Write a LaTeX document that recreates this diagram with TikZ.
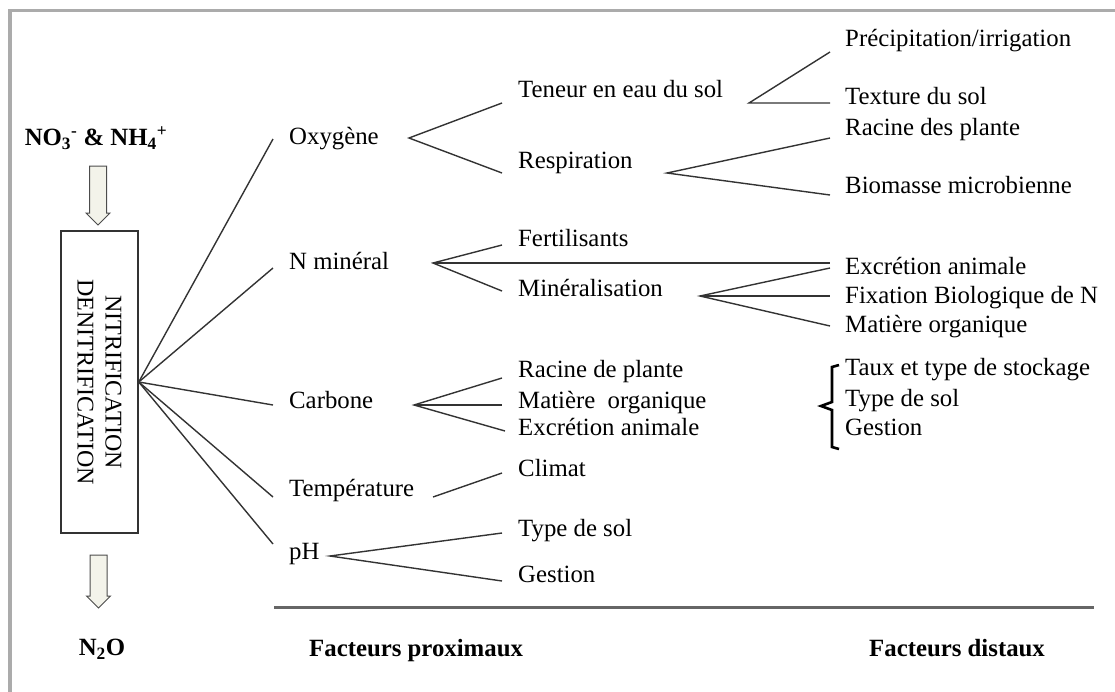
\documentclass[tikz,border=0pt]{standalone}
\usepackage{fontspec}
\setmainfont{Liberation Serif}
\definecolor{framegray}{HTML}{ABABAB}
\definecolor{linegray}{HTML}{333333}
\definecolor{rulegray}{HTML}{666666}
\definecolor{arrowfill}{HTML}{F3F3EA}
\begin{document}
\begin{tikzpicture}[x=1pt,y=-1pt,
  lbl/.style={anchor=west, inner sep=0pt, text height=0.66em, text depth=0pt, font=\fontsize{24.8}{30}\selectfont},
  blbl/.style={lbl, font=\fontsize{24.8}{30}\selectfont\bfseries},
  conn/.style={draw=linegray, line width=1.4pt},
  harrow/.style={draw=black!70, fill=arrowfill, line width=1pt, line join=miter}]
\useasboundingbox (0,0) rectangle (1115,691);
\draw[framegray, line width=3.5pt] (10,700) -- (10,10.5) -- (1125,10.5);

% left column
\node[blbl, anchor=center] (no3) at (96,142) {NO\textsubscript{3}\textsuperscript{-} \& NH\textsubscript{4}\textsuperscript{+}};
\node[draw=linegray, line width=1.5pt, minimum width=77pt, minimum height=302pt, inner sep=0pt] (box) at (99.5,382) {};
\node[rotate=-90, align=center, inner sep=0pt, font=\fontsize{24}{28}\selectfont] (boxtext) at (box.center) {NITRIFICATION\\DENITRIFICATION};
\node[blbl, anchor=center] (n2o) at (102,652) {N\textsubscript{2}O};
\draw[harrow] (89.5,166) -- (106.5,166) -- (106.5,213) -- (110,213) -- (98,225) -- (86,213) -- (89.5,213) -- cycle;
\draw[harrow] (90,555) -- (107,555) -- (107,596) -- (110.5,596) -- (98.5,608) -- (86.5,596) -- (90,596) -- cycle;

% level 1
\node[lbl] (oxy) at (289,141) {Oxygène};
\node[lbl] (nmin) at (289,266) {N minéral};
\node[lbl] (carb) at (289,405) {Carbone};
\node[lbl] (temp) at (289,493) {Température};
\node[lbl] (ph) at (289,556) {pH};

% level 2
\node[lbl] (ten) at (518,94) {Teneur en eau du sol};
\node[lbl] (resp) at (518,165) {Respiration};
\node[lbl] (fert) at (518,243) {Fertilisants};
\node[lbl] (minr) at (518,293) {Minéralisation};
\node[lbl] (racp) at (518,374) {Racine de plante};
\node[lbl] (mato) at (518,405) {Matière\ \ organique};
\node[lbl] (excr) at (518,432) {Excrétion animale};
\node[lbl] (clim) at (518,473) {Climat};
\node[lbl] (tsol) at (518,533) {Type de sol};
\node[lbl] (gest) at (518,579) {Gestion};

% level 3
\node[lbl] (prec) at (845,43) {Précipitation/irrigation};
\node[lbl] (text) at (845,101) {Texture du sol};
\node[lbl] (racd) at (845,132) {Racine des plante};
\node[lbl] (biom) at (845,190) {Biomasse microbienne};
\node[lbl] (exca) at (845,271) {Excrétion animale};
\node[lbl] (fixb) at (845,300) {Fixation Biologique de N};
\node[lbl] (mat3) at (845,329) {Matière organique};
\node[lbl] (taux) at (845,372) {Taux et type de stockage};
\node[lbl] (tys3) at (845,403) {Type de sol};
\node[lbl] (ges3) at (845,432) {Gestion};

% bottom
\node[blbl] (fprox) at (309,653) {Facteurs proximaux};
\node[blbl] (fdist) at (869,653) {Facteurs distaux};
\coordinate (ruleL) at (274,607);
\coordinate (ruleR) at (1094,607);
\draw[rulegray, line width=3pt] (ruleL) -- (ruleR);

% connector coordinates
\coordinate (f1) at (273,139); \coordinate (f2) at (273,268); \coordinate (f3) at (273,405);
\coordinate (f4) at (273,497); \coordinate (f5) at (273,544);
\coordinate (oxyR) at (409,138); \coordinate (oxyA) at (502,103); \coordinate (oxyB) at (502,173);
\coordinate (tenR) at (749,103); \coordinate (tenA) at (830,52); \coordinate (tenB) at (830,103);
\coordinate (resR) at (667,173); \coordinate (resA) at (830,138); \coordinate (resB) at (830,195);
\coordinate (nmR) at (433,263); \coordinate (nmA) at (502,245); \coordinate (nmB) at (830,263); \coordinate (nmC) at (502,291);
\coordinate (miR) at (700,296); \coordinate (miA) at (830,268); \coordinate (miB) at (830,296); \coordinate (miC) at (830,326);
\coordinate (caR) at (414,405); \coordinate (caA) at (502,378); \coordinate (caB) at (502,405); \coordinate (caC) at (505,431);
\coordinate (teR) at (433,497); \coordinate (teA) at (502,473);
\coordinate (phR) at (330,556); \coordinate (phA) at (502,533); \coordinate (phB) at (502,581);

\foreach \e in {f1,f2,f3,f4,f5} \draw[conn] (box.east) -- (\e);
\draw[conn] (oxyA) -- (oxyR) -- (oxyB);
\draw[conn] (tenA) -- (tenR) -- (tenB);
\draw[conn] (resA) -- (resR) -- (resB);
\draw[conn] (nmA) -- (nmR) -- (nmC); \draw[conn] (nmR) -- (nmB);
\draw[conn] (miA) -- (miR) -- (miC); \draw[conn] (miR) -- (miB);
\draw[conn] (caA) -- (caR) -- (caC); \draw[conn] (caR) -- (caB);
\draw[conn] (teR) -- (teA);
\draw[conn] (phA) -- (phR) -- (phB);

% bracket
\draw[black, line width=2.6pt, line join=miter] (839,365) -- (832,367) -- (832,402) -- (821,406) -- (832,410) -- (832,447) -- (839,449);
\end{tikzpicture}
\end{document}
